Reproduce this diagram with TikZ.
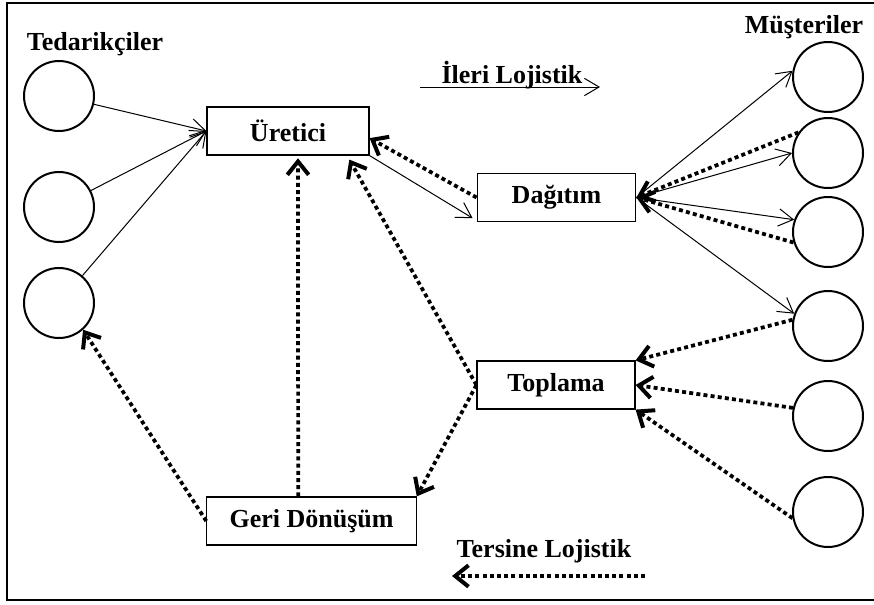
\documentclass[tikz,border=0pt]{standalone}
\usepackage{fontspec}
\setmainfont{Liberation Serif}
\usetikzlibrary{arrows.meta}
\begin{document}
\begin{tikzpicture}[x=0.75pt,y=-0.75pt,
  cust/.style={circle,draw,line width=1.5pt,minimum size=52.5pt,inner sep=0pt},
  box/.style={draw,line width=0.9pt,minimum height=36pt,inner sep=0pt,font=\fontsize{19.5}{22}\selectfont\bfseries},
  lbl/.style={anchor=base,inner sep=0pt,font=\fontsize{19.5}{22}\selectfont\bfseries},
  fwd/.style={line width=0.75pt,-{Straight Barb[length=11pt,width=13pt,line width=0.75pt]}},
  rev/.style={line width=2.8pt,dash pattern=on 3pt off 2.4pt,-{Straight Barb[length=10pt,width=16pt,line width=3pt]}}
]
\useasboundingbox (0,0) rectangle (874,604);
\draw[line width=1.5pt] (880,3) -- (7,3) -- (7,600) -- (880,600);

% labels
\node[lbl] (ted) at (95,50) {Tedarikçiler};
\node[lbl] (mus) at (804,33) {Müşteriler};
\node[lbl] (ileri) at (512,83) {İleri Lojistik};
\node[lbl] (ters) at (544,557) {Tersine Lojistik};

% circles
\node[cust] (L1) at (59,96) {};
\node[cust] (L2) at (59,207) {};
\node[cust] (L3) at (59,303) {};
\node[cust] (R1) at (828,77) {};
\node[cust] (R2) at (828,153) {};
\node[cust] (R3) at (828,232) {};
\node[cust] (R4) at (828,326) {};
\node[cust] (R5) at (828,416) {};
\node[cust] (R6) at (828,512) {};

% boxes
\node[box,minimum width=121.5pt] (ure) at (288,131) {Üretici};
\node[box,minimum width=119pt] (dag) at (556.5,197.5) {Dağıtım};
\node[box,minimum width=118.5pt] (top) at (556,385) {Toplama};
\node[box,minimum width=157pt] (geri) at (311.5,521) {Geri Dönüşüm};

% forward logistics
\draw[fwd] (L1) -- (ure.west);
\draw[fwd] (L2) -- (ure.west);
\draw[fwd] (L3) -- (ure.west);
\draw[fwd] (ure.south east) -- ([xshift=-3pt,yshift=3pt]dag.south west);
\draw[fwd] (dag.east) -- (R1.170);
\draw[fwd] (dag.east) -- (R2.180);
\draw[fwd] (dag.east) -- (R3.160);
\draw[fwd] (dag.east) -- (R4.160);

% reverse logistics
\draw[rev] (dag.west) -- (ure.-5);
\draw[rev] (R2.145) -- (dag.east);
\draw[rev] (R3.197) -- (dag.east);
\draw[rev] (top.west) -- ([xshift=46pt,yshift=-3pt]ure.south);
\draw[rev] (top.west) -- (geri.north east);
\draw[rev] ([xshift=-10pt]geri.north) -- ([xshift=7.5pt,yshift=-2pt]ure.south);
\draw[rev] (geri.west) -- (L3.-48);
\draw[rev] (R4.170) -- (top.north east);
\draw[rev] (R5.167) -- (top.east);
\draw[rev] (R6.190) -- (top.south east);

% legend arrows
\coordinate (fA) at (420,87);
\coordinate (fB) at (600,87);
\draw[fwd] (fA) -- (fB);
\coordinate (rA) at (645,576);
\coordinate (rB) at (452,576);
\draw[rev] (rA) -- (rB);
\end{tikzpicture}
\end{document}
